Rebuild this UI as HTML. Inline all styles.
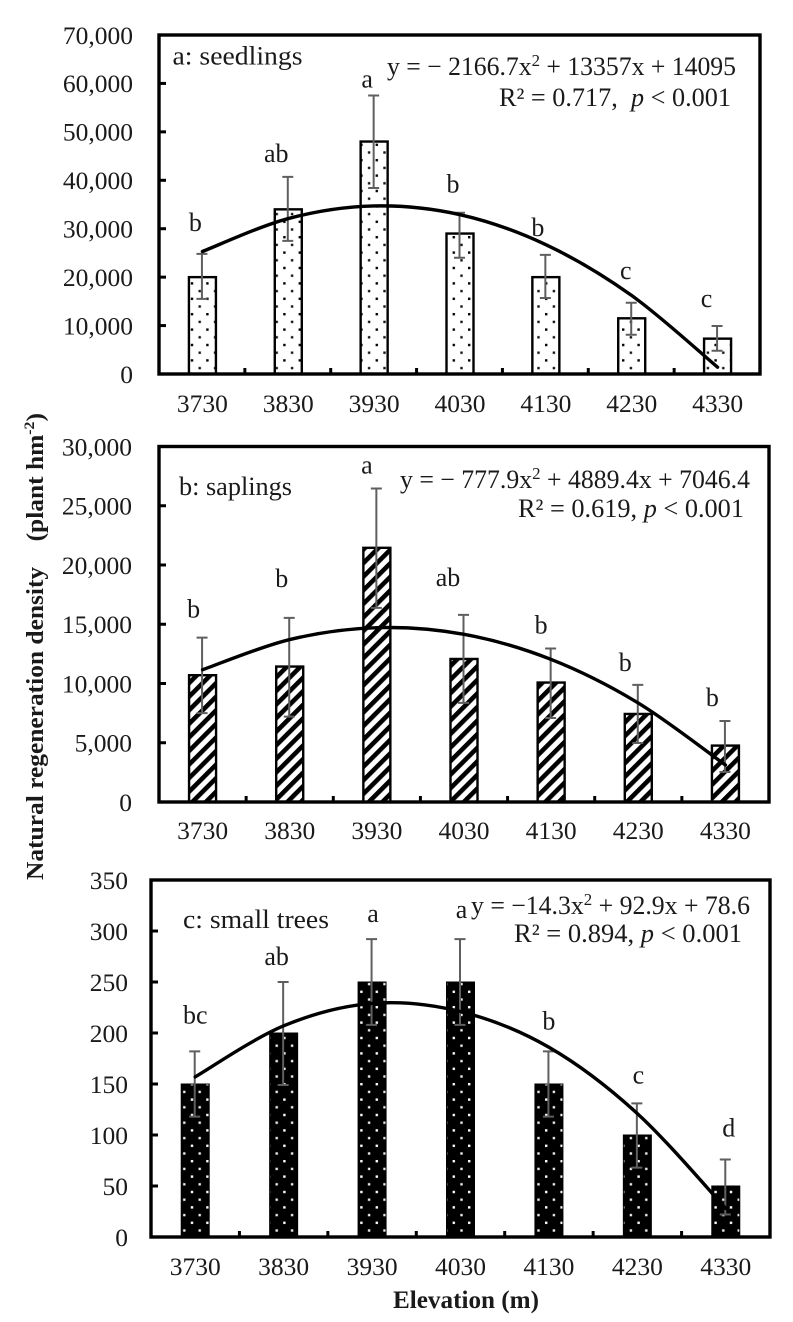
<!DOCTYPE html>
<html lang="en">
<head>
<meta charset="utf-8">
<title>Natural regeneration density by elevation</title>
<style>
html,body{margin:0;padding:0;background:#fff;}
svg{display:block;}
text{font-family:"Liberation Serif",serif;fill:#1a1a1a;}
</style>
</head>
<body>
<svg id="chart" xmlns="http://www.w3.org/2000/svg" width="793" height="1322" viewBox="0 0 793 1322">
  <defs>
    <pattern id="dots-white" patternUnits="userSpaceOnUse" width="15.4" height="15.4" x="3" y="2">
      <rect width="15.4" height="15.4" fill="#fff"/>
      <rect x="3" y="3" width="2.4" height="2.4" fill="#000"/>
      <rect x="10.7" y="10.7" width="2.4" height="2.4" fill="#111"/>
    </pattern>
    <pattern id="hatch" patternUnits="userSpaceOnUse" width="9.6" height="9.6" patternTransform="rotate(-45)">
      <rect width="9.6" height="9.6" fill="#fff"/>
      <rect x="0" y="0" width="9.6" height="4.6" fill="#000"/>
    </pattern>
    <pattern id="dots-black" patternUnits="userSpaceOnUse" width="15.4" height="15.4" x="3" y="2">
      <rect width="15.4" height="15.4" fill="#000"/>
      <rect x="3" y="3" width="2.4" height="2.4" fill="#fff"/>
      <rect x="10.7" y="10.7" width="2.4" height="2.4" fill="#eee"/>
    </pattern>
  </defs>

  <text transform="translate(43,880) rotate(-90)" font-size="24" font-weight="bold" textLength="467" lengthAdjust="spacingAndGlyphs">Natural regeneration density&#160;&#160;&#160;&#160;(plant hm<tspan font-size="15" dy="-9">-2</tspan><tspan dy="9">)</tspan></text>
  <text x="393" y="1308" font-size="25" font-weight="bold" textLength="146" lengthAdjust="spacingAndGlyphs">Elevation (m)</text>

  <text x="172.5" y="64.5" font-size="26" textLength="130" lengthAdjust="spacingAndGlyphs">a: seedlings</text>
  <text x="387" y="75" font-size="26" textLength="349" lengthAdjust="spacingAndGlyphs">y = − 2166.7x<tspan font-size="17" dy="-9">2</tspan><tspan dy="9"> + 13357x + 14095</tspan></text>
  <text x="499" y="106" font-size="26" textLength="232" lengthAdjust="spacingAndGlyphs">R² = 0.717,&#160;&#160;<tspan font-style="italic">p</tspan> &lt; 0.001</text>

  <text x="179" y="495" font-size="26" textLength="113" lengthAdjust="spacingAndGlyphs">b: saplings</text>
  <text x="400" y="488" font-size="26" textLength="350" lengthAdjust="spacingAndGlyphs">y = − 777.9x<tspan font-size="17" dy="-9">2</tspan><tspan dy="9"> + 4889.4x + 7046.4</tspan></text>
  <text x="518" y="517" font-size="26" textLength="226" lengthAdjust="spacingAndGlyphs">R² = 0.619, <tspan font-style="italic">p</tspan> &lt; 0.001</text>

  <text x="183" y="928" font-size="26" textLength="146" lengthAdjust="spacingAndGlyphs">c: small trees</text>
  <text x="471" y="914" font-size="26" textLength="279" lengthAdjust="spacingAndGlyphs">y = −14.3x<tspan font-size="17" dy="-9">2</tspan><tspan dy="9"> + 92.9x + 78.6</tspan></text>
  <text x="514" y="942" font-size="26" textLength="228" lengthAdjust="spacingAndGlyphs">R² = 0.894, <tspan font-style="italic">p</tspan> &lt; 0.001</text>
</svg>
<script>
var categories = ['3730', '3830', '3930', '4030', '4130', '4230', '4330'];

var seedlingsTicks = [0, 10000, 20000, 30000, 40000, 50000, 60000, 70000];
var seedlingsValues = [20000, 34000, 48000, 29000, 20000, 11500, 7300];
var seedlingsErrUpper = [24800, 40700, 57500, 33300, 24600, 14700, 9900];
var seedlingsErrLower = [15500, 27500, 38400, 24000, 15700, 8100, 4800];
var seedlingsTrend = [25300, 32100, 34700, 32900, 26700, 16200, 1400];
var seedlingsLetters = ['b', 'ab', 'a', 'b', 'b', 'c', 'c'];

var saplingsTicks = [0, 5000, 10000, 15000, 20000, 25000, 30000];
var saplingsValues = [10700, 11430, 21450, 12070, 10080, 7430, 4760];
var saplingsErrUpper = [13870, 15540, 26460, 15790, 12950, 9880, 6840];
var saplingsErrLower = [7500, 7200, 16380, 8360, 7090, 4980, 2530];
var saplingsTrend = [11160, 13710, 14710, 14150, 12030, 8350, 3120];
var saplingsLetters = ['b', 'b', 'a', 'ab', 'b', 'b', 'b'];

var treesTicks = [0, 50, 100, 150, 200, 250, 300, 350];
var treesValues = [150, 200, 250, 250, 150, 100, 50];
var treesErrUpper = [182, 250, 292, 292, 182, 131, 76];
var treesErrLower = [118, 149, 208, 208, 118, 68, 22];
var treesTrend = [157, 207, 229, 221, 186, 121, 28];
var treesLetters = ['bc', 'ab', 'a', 'a', 'b', 'c', 'd'];

var NS = 'http://www.w3.org/2000/svg';
var svg = document.getElementById('chart');

function make(tag, attrs) {
  var el = document.createElementNS(NS, tag);
  for (var k in attrs) { el.setAttribute(k, attrs[k]); }
  svg.appendChild(el);
  return el;
}

function smoothPath(pts) {
  var d = 'M' + pts[0][0] + ' ' + pts[0][1];
  for (var i = 0; i < pts.length - 1; i++) {
    var p0 = pts[Math.max(i - 1, 0)], p1 = pts[i], p2 = pts[i + 1], p3 = pts[Math.min(i + 2, pts.length - 1)];
    d += ' C' + (p1[0] + (p2[0] - p0[0]) / 6) + ' ' + (p1[1] + (p2[1] - p0[1]) / 6) + ' ' +
      (p2[0] - (p3[0] - p1[0]) / 6) + ' ' + (p2[1] - (p3[1] - p1[1]) / 6) + ' ' + p2[0] + ' ' + p2[1];
  }
  return d;
}

function drawPanel(p) {
  var maxTick = p.ticks[p.ticks.length - 1];
  var step = (p.right - p.left) / categories.length;
  function xAt(i) { return p.left + step * (i + 0.5) + p.xShift; }
  function yAt(v) { return p.bottom - (p.bottom - p.top) * v / maxTick; }

  p.values.forEach(function (v, i) {
    var bar = make('rect', { x: xAt(i) - p.barW / 2, y: yAt(v), width: p.barW, height: p.bottom - yAt(v), fill: p.fill, stroke: '#000', 'stroke-width': p.barStroke });
    
    
  });

  var errPath = '';
  p.values.forEach(function (v, i) {
    var x = xAt(i) - 0.5, t = yAt(p.errUpper[i]), b = yAt(p.errLower[i]);
    errPath += 'M' + x + ' ' + t + 'V' + b + 'M' + (x - 5.5) + ' ' + t + 'H' + (x + 5.5) + 'M' + (x - 5.5) + ' ' + b + 'H' + (x + 5.5);
  });
  var err = make('path', { d: errPath, fill: 'none', stroke: '#5f5f5f', 'stroke-width': 2 });
  
  

  var pts = p.trend.map(function (v, i) { return [xAt(i), yAt(v)]; });
  var curve = make('path', { d: smoothPath(pts), fill: 'none', stroke: '#000', 'stroke-width': 3.4, 'stroke-linecap': 'round' });
  
  

  var frame = make('rect', { x: p.left, y: p.top, width: p.right - p.left, height: p.bottom - p.top, fill: 'none', stroke: '#000', 'stroke-width': 3.4 });
  
  

  p.ticks.forEach(function (v) {
    var y = yAt(v);
    if (v > 0 && v < maxTick) {
      var tick = make('rect', { x: p.left, y: y - 1.5, width: 7, height: 3, fill: '#000' });
      
      
    }
    var label = make('text', { x: p.tickRight, y: y + 8.8, 'font-size': 25.5, 'text-anchor': 'end' });
    label.textContent = v.toLocaleString('en-US');
    
    
  });

  categories.forEach(function (c, i) {
    if (i > 0) {
      var tick = make('rect', { x: p.left + step * i - 1.5, y: p.bottom - 6, width: 3, height: 6, fill: '#000' });
      
      
    }
    var label = make('text', { x: xAt(i), y: p.catY, 'font-size': 25.5, 'text-anchor': 'middle' });
    label.textContent = c;
    
    

    var letter = make('text', { x: xAt(i) + p.letterDx[i], y: yAt(p.errUpper[i]) - p.letterGap[i], 'font-size': 26, 'text-anchor': 'middle' });
    letter.textContent = p.letters[i];
    
    
  });
}

drawPanel({
  id: 'seedlings', left: 159, right: 760, top: 35, bottom: 374, xShift: 0.5, barW: 27, barStroke: 2.4,
  fill: 'url(#dots-white)', tickRight: 133, catY: 412, ticks: seedlingsTicks, values: seedlingsValues,
  errUpper: seedlingsErrUpper, errLower: seedlingsErrLower, trend: seedlingsTrend, letters: seedlingsLetters,
  letterDx: [-7, -12, -7, -7, -8, -6, -11], letterGap: [23, 15, 8, 20, 19, 24, 19]
});
drawPanel({
  id: 'saplings', left: 159, right: 769, top: 446.5, bottom: 802, xShift: 0, barW: 27, barStroke: 2.4,
  fill: 'url(#hatch)', tickRight: 132, catY: 839, ticks: saplingsTicks, values: saplingsValues,
  errUpper: saplingsErrUpper, errLower: saplingsErrLower, trend: saplingsTrend, letters: saplingsLetters,
  letterDx: [-9, -8, -10, -16, -10, -13, -13], letterGap: [20, 31, 15, 29, 15, 14, 15]
});
drawPanel({
  id: 'small-trees', left: 151, right: 770, top: 880, bottom: 1237, xShift: 0, barW: 28, barStroke: 1,
  fill: 'url(#dots-black)', tickRight: 128, catY: 1275, ticks: treesTicks, values: treesValues,
  errUpper: treesErrUpper, errLower: treesErrLower, trend: treesTrend, letters: treesLetters,
  letterDx: [0, -7, 1, 1, 0, 1, 3], letterGap: [28, 17, 17, 21, 22, 20, 23]
});
</script>
</body>
</html>
